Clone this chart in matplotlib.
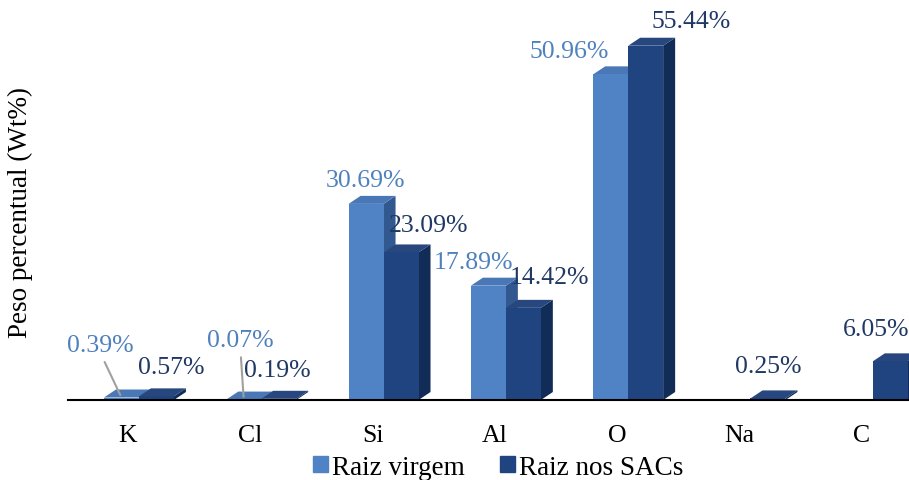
import matplotlib.pyplot as plt
from matplotlib.patches import Polygon, Patch
import numpy as np

plt.rcParams["font.family"] = ["Liberation Serif", "DejaVu Serif"]

categories = ["K", "Cl", "Si", "Al", "O", "Na", "C"]
raiz_virgem = [0.39, 0.07, 30.69, 17.89, 50.96, None, None]
raiz_sacs = [0.57, 0.19, 23.09, 14.42, 55.44, 0.25, 6.05]
series_names = ["Raiz virgem", "Raiz nos SACs"]

# label offsets (pixels) relative to bar front-top centre
virgem_offsets = [(-21, 53), (-3, 60), (-1, 24), (-15, 24), (-41, 23), None, None]
sacs_offsets = [(15, 29), (-1, 29), (28, 27), (26, 31), (45, 25), (0, 32), (-14, 32)]

colors = {
    "virgem": dict(front="#5083C5", top="#4A78B6", side="#31598F", text="#4F81BD"),
    "sacs": dict(front="#1F4480", top="#27477E", side="#112C56", text="#1F3864"),
}

fig = plt.figure(figsize=(9.09, 4.81), dpi=100)
ax = fig.add_axes([68 / 909, 80 / 481, 841 / 909, 401 / 481])

x = np.arange(len(categories))
width = 0.286
dx, dy = 0.098, 1.25


def draw_bar(x0, h, c):
    x1 = x0 + width
    ax.add_patch(Polygon([(x1, 0), (x1, h), (x1 + dx, h + dy), (x1 + dx, dy)],
                         closed=True, facecolor=c["side"], edgecolor="none", zorder=2))
    ax.add_patch(Polygon([(x0, h), (x1, h), (x1 + dx, h + dy), (x0 + dx, h + dy)],
                         closed=True, facecolor=c["top"], edgecolor="none", zorder=2))
    ax.bar(x0, h, width=width, align="edge", color=c["front"], zorder=2)


for i in range(len(categories)):
    v = raiz_virgem[i]
    if v is not None:
        x0 = x[i] - 0.196
        draw_bar(x0, v, colors["virgem"])
        ox, oy = virgem_offsets[i]
        ax.annotate(f"{v:.2f}%", (x0 + width / 2, v), xytext=(ox, oy),
                    textcoords="offset pixels", ha="center", va="center",
                    fontsize=18.5, color=colors["virgem"]["text"], zorder=5)
        if v < 1:
            ax.annotate("", (x0 + width / 2, v), xytext=(ox + (3 if ox < -10 else 0), oy - 15),
                        textcoords="offset pixels",
                        arrowprops=dict(arrowstyle="-", color="#A0A0A0", lw=1.5),
                        zorder=4)

for i in range(len(categories)):
    v = raiz_sacs[i]
    x0 = x[i] + 0.09
    draw_bar(x0, v, colors["sacs"])
    ox, oy = sacs_offsets[i]
    ax.annotate(f"{v:.2f}%", (x0 + width / 2, v), xytext=(ox, oy),
                textcoords="offset pixels", ha="center", va="center",
                fontsize=18.5, color=colors["sacs"]["text"], zorder=5,
                annotation_clip=False)

ax.set_xlim(-0.49, 6.386)
ax.set_ylim(0, 62.75)
ax.set_xticks(x, labels=categories, fontsize=18.5)
ax.set_yticks([])
ax.tick_params(axis="x", length=0, pad=17)
for s in ["top", "right", "left"]:
    ax.spines[s].set_visible(False)
ax.spines["bottom"].set_linewidth(1.5)
ax.set_ylabel("Peso percentual (Wt%)", fontsize=19.5)
ax.yaxis.set_label_coords(-0.042, 0.47)

handles = [Patch(color=colors["virgem"]["front"]), Patch(color=colors["sacs"]["front"])]
fig.legend(handles, series_names, loc="center", bbox_to_anchor=(0.548, 0.027),
           ncol=2, frameon=False, fontsize=19.5, handlelength=0.55, handleheight=0.55,
           handletextpad=0.15, columnspacing=1.3, borderaxespad=0)

fig.savefig("out.png", dpi=100)
